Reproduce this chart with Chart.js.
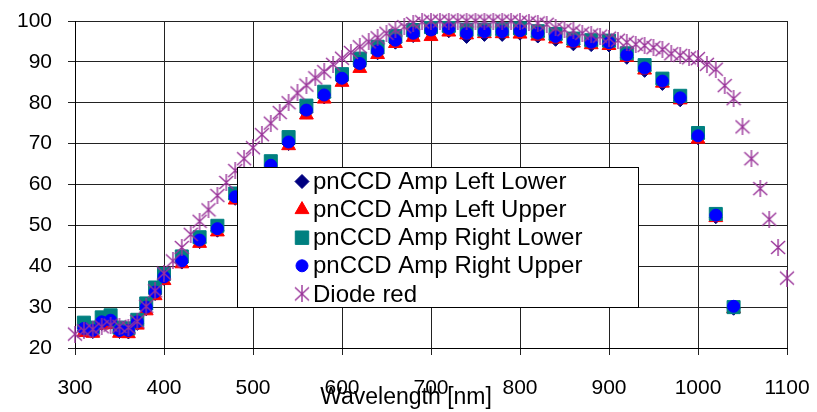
<!DOCTYPE html>
<html>
<head>
<meta charset="utf-8">
<script src="https://cdn.jsdelivr.net/npm/chart.js@4.4.1/dist/chart.umd.min.js"></script>
<style>
  body { margin: 0; background: #fff; }
  canvas { display: block; }
</style>
</head>
<body>
<canvas id="qeChart" width="817" height="412"></canvas>
<script>
// wavelengths of the pnCCD measurements (nm)
const pnWave = [310, 320, 330, 340, 350, 360, 370, 380, 390, 400, 420, 440, 460, 480, 500, 520, 540, 560, 580, 600,
  620, 640, 660, 680, 700, 720, 740, 760, 780, 800, 820, 840, 860, 880, 900, 920, 940, 960, 980, 1000, 1020, 1040];

const leftLower = [24.2, 23.9, 25.9, 26.2, 23.9, 23.8, 25.9, 29.5, 33.2, 36.9, 40.9, 45.9, 48.7, 56.5, 60.5, 64.1, 69.9, 77.6, 81.3, 85.4,
  89.0, 92.1, 94.7, 96.3, 97.2, 97.5, 96.1, 96.6, 96.6, 96.9, 96.2, 95.4, 94.3, 94.1, 94.0, 91.0, 87.8, 84.6, 80.6, 71.3, 52.0, 29.6];
const leftUpper = [23.8, 23.6, 25.6, 25.8, 23.6, 23.5, 25.6, 29.1, 32.8, 36.5, 40.6, 45.6, 48.4, 56.2, 60.2, 63.8, 69.5, 77.0, 80.9, 85.0,
  88.4, 91.8, 94.5, 96.0, 96.2, 97.3, 96.6, 96.9, 96.9, 96.8, 96.3, 95.6, 94.6, 94.2, 94.0, 91.1, 88.0, 84.8, 80.7, 71.1, 51.9, 29.6];
const rightLower = [26.2, 25.0, 27.5, 28.0, 25.0, 24.8, 26.9, 30.9, 34.8, 38.1, 42.4, 47.1, 49.9, 57.8, 62.0, 65.7, 71.6, 79.3, 82.7, 87.0,
  90.8, 93.7, 96.3, 97.8, 98.5, 98.8, 97.9, 97.9, 98.0, 98.2, 97.5, 96.8, 95.7, 95.3, 95.2, 92.1, 89.2, 85.9, 81.7, 72.6, 52.8, 30.0];
const rightUpper = [24.8, 24.3, 26.4, 26.8, 24.3, 24.3, 26.4, 30.0, 33.7, 37.4, 41.3, 46.4, 49.2, 57.0, 61.0, 64.7, 70.4, 78.2, 81.9, 86.0,
  89.6, 92.7, 95.3, 97.0, 97.8, 98.2, 97.0, 97.4, 97.4, 97.6, 97.0, 96.2, 95.1, 94.8, 94.7, 91.7, 88.5, 85.3, 81.2, 71.9, 52.5, 30.2];

// reference diode
const diodeWave = [300, 310, 320, 330, 340, 350, 360, 370, 380, 390, 400, 410, 420, 430, 440, 450, 460, 470, 480, 490,
  500, 510, 520, 530, 540, 550, 560, 570, 580, 590, 600, 610, 620, 630, 640, 650, 660, 670, 680, 690,
  700, 710, 720, 730, 740, 750, 760, 770, 780, 790, 800, 810, 820, 830, 840, 850, 860, 870, 880, 890,
  900, 910, 920, 930, 940, 950, 960, 970, 980, 990, 1000, 1010, 1020, 1030, 1040, 1050, 1060, 1070, 1080, 1090, 1100];
const diodeRed = [23.4, 24.2, 24.6, 25.2, 25.6, 25.3, 25.0, 26.5, 30.2, 34.0, 38.3, 41.3, 44.6, 47.8, 51.0, 53.8, 57.3, 60.5, 63.4, 66.3,
  69.0, 72.2, 75.0, 77.6, 80.0, 82.4, 84.3, 86.1, 87.6, 89.4, 90.9, 92.3, 93.7, 94.9, 95.9, 97.0, 97.8, 98.6, 99.4, 99.8,
  100, 100, 100, 100, 100, 100, 100, 100, 100, 100, 99.8, 99.7, 99.5, 99.2, 98.3, 97.9, 97.6, 97.0, 96.6, 96.3,
  95.8, 95.3, 94.8, 94.3, 94.0, 93.5, 93.0, 92.0, 91.6, 91.0, 90.8, 89.4, 88.2, 84.2, 81.0, 74.1, 66.3, 59.0, 51.5, 44.6, 37.1];

const seriesNames = ['pnCCD Amp Left Lower', 'pnCCD Amp Left Upper', 'pnCCD Amp Right Lower', 'pnCCD Amp Right Upper', 'Diode red'];

function pairs(xs, ys) {
  return xs.map((x, i) => ({ x: x, y: ys[i] }));
}

// asterisk marker like the excel one
const star = document.createElement('canvas');
star.width = 16;
star.height = 17;
(function () {
  const c = star.getContext('2d');
  c.strokeStyle = '#993399';
  c.lineWidth = 1.4;
  c.beginPath();
  c.moveTo(1, 2); c.lineTo(15, 15);
  c.moveTo(15, 2); c.lineTo(1, 15);
  c.moveTo(8, 0); c.lineTo(8, 17);
  c.stroke();
})();

const legendRadius = [7, 8, 9.5, 6, 0];

const boxLegend = {
  id: 'boxLegend',
  afterDraw(chart) {
    const ctx = chart.ctx;
    ctx.save();
    ctx.fillStyle = '#fff';
    ctx.fillRect(237.5, 167.5, 401, 140);
    ctx.strokeStyle = '#000';
    ctx.lineWidth = 1;
    ctx.strokeRect(237.5, 167.5, 401, 140);
    ctx.font = '24px "Liberation Sans", Arial, sans-serif';
    ctx.textBaseline = 'middle';
    chart.data.datasets.forEach((ds, i) => {
      const y = 181.5 + i * 28.1;
      ctx.fillStyle = ds.backgroundColor;
      ctx.strokeStyle = ds.borderColor;
      Chart.helpers.drawPoint(ctx, { pointStyle: ds.pointStyle, radius: legendRadius[i], rotation: 0, borderWidth: 1 }, 302, y);
      ctx.fillStyle = '#000';
      ctx.fillText(seriesNames[i], 313, y + 1);
    });
    // x axis title sits over the tick labels
    ctx.font = '23px "Liberation Sans", Arial, sans-serif';
    ctx.textAlign = 'center';
    ctx.fillText('Wavelength [nm]', 406, 398);
    ctx.restore();
  }
};

Chart.defaults.font.family = '"Liberation Sans", Arial, sans-serif';
Chart.defaults.color = '#000';

const ctx = document.getElementById('qeChart').getContext('2d');
const chart = new Chart(ctx, {
  type: 'scatter',
  data: {
    datasets: [
      {
        label: seriesNames[0],
        data: pairs(pnWave, leftLower),
        pointStyle: 'rectRot',
        pointRadius: 6.5,
        backgroundColor: '#000080',
        borderColor: '#000080',
        borderWidth: 1,
        order: 5
      },
      {
        label: seriesNames[1],
        data: pairs(pnWave, leftUpper),
        pointStyle: 'triangle',
        pointRadius: 8,
        backgroundColor: '#ff0000',
        borderColor: '#ff0000',
        borderWidth: 1,
        order: 4
      },
      {
        label: seriesNames[2],
        data: pairs(pnWave, rightLower),
        pointStyle: 'rect',
        pointRadius: 9.2,
        backgroundColor: '#008080',
        borderColor: '#008080',
        borderWidth: 1,
        order: 3
      },
      {
        label: seriesNames[3],
        data: pairs(pnWave, rightUpper),
        pointStyle: 'circle',
        pointRadius: 6,
        backgroundColor: '#0000ff',
        borderColor: '#0000ff',
        borderWidth: 1,
        order: 2
      },
      {
        label: seriesNames[4],
        data: pairs(diodeWave, diodeRed),
        pointStyle: star,
        backgroundColor: '#993399',
        borderColor: '#993399',
        order: 1,
        clip: false
      }
    ]
  },
  options: {
    responsive: false,
    animation: false,
    events: [],
    layout: { padding: { top: 21, right: 30, left: 0, bottom: 0 } },
    plugins: {
      legend: { display: false },
      tooltip: { enabled: false }
    },
    scales: {
      x: {
        type: 'linear',
        min: 300,
        max: 1100,
        ticks: { stepSize: 100, padding: 21, font: { size: 21 }, color: '#000', callback: (v) => String(v) },
        grid: { color: '#222', tickLength: 7, drawTicks: true },
        border: { color: '#000' },
        afterFit(scale) {
          scale.height = 64;
          scale.paddingLeft = 0;
          scale.paddingRight = 0;
        }
      },
      y: {
        min: 20,
        max: 100,
        ticks: { stepSize: 10, padding: 16, font: { size: 21 }, color: '#000' },
        grid: { color: '#222', tickLength: 7, drawTicks: true },
        border: { color: '#000' },
        afterFit(scale) {
          scale.width = 75;
          scale.paddingTop = 0;
          scale.paddingBottom = 0;
        }
      }
    }
  },
  plugins: [boxLegend]
});
</script>
</body>
</html>
